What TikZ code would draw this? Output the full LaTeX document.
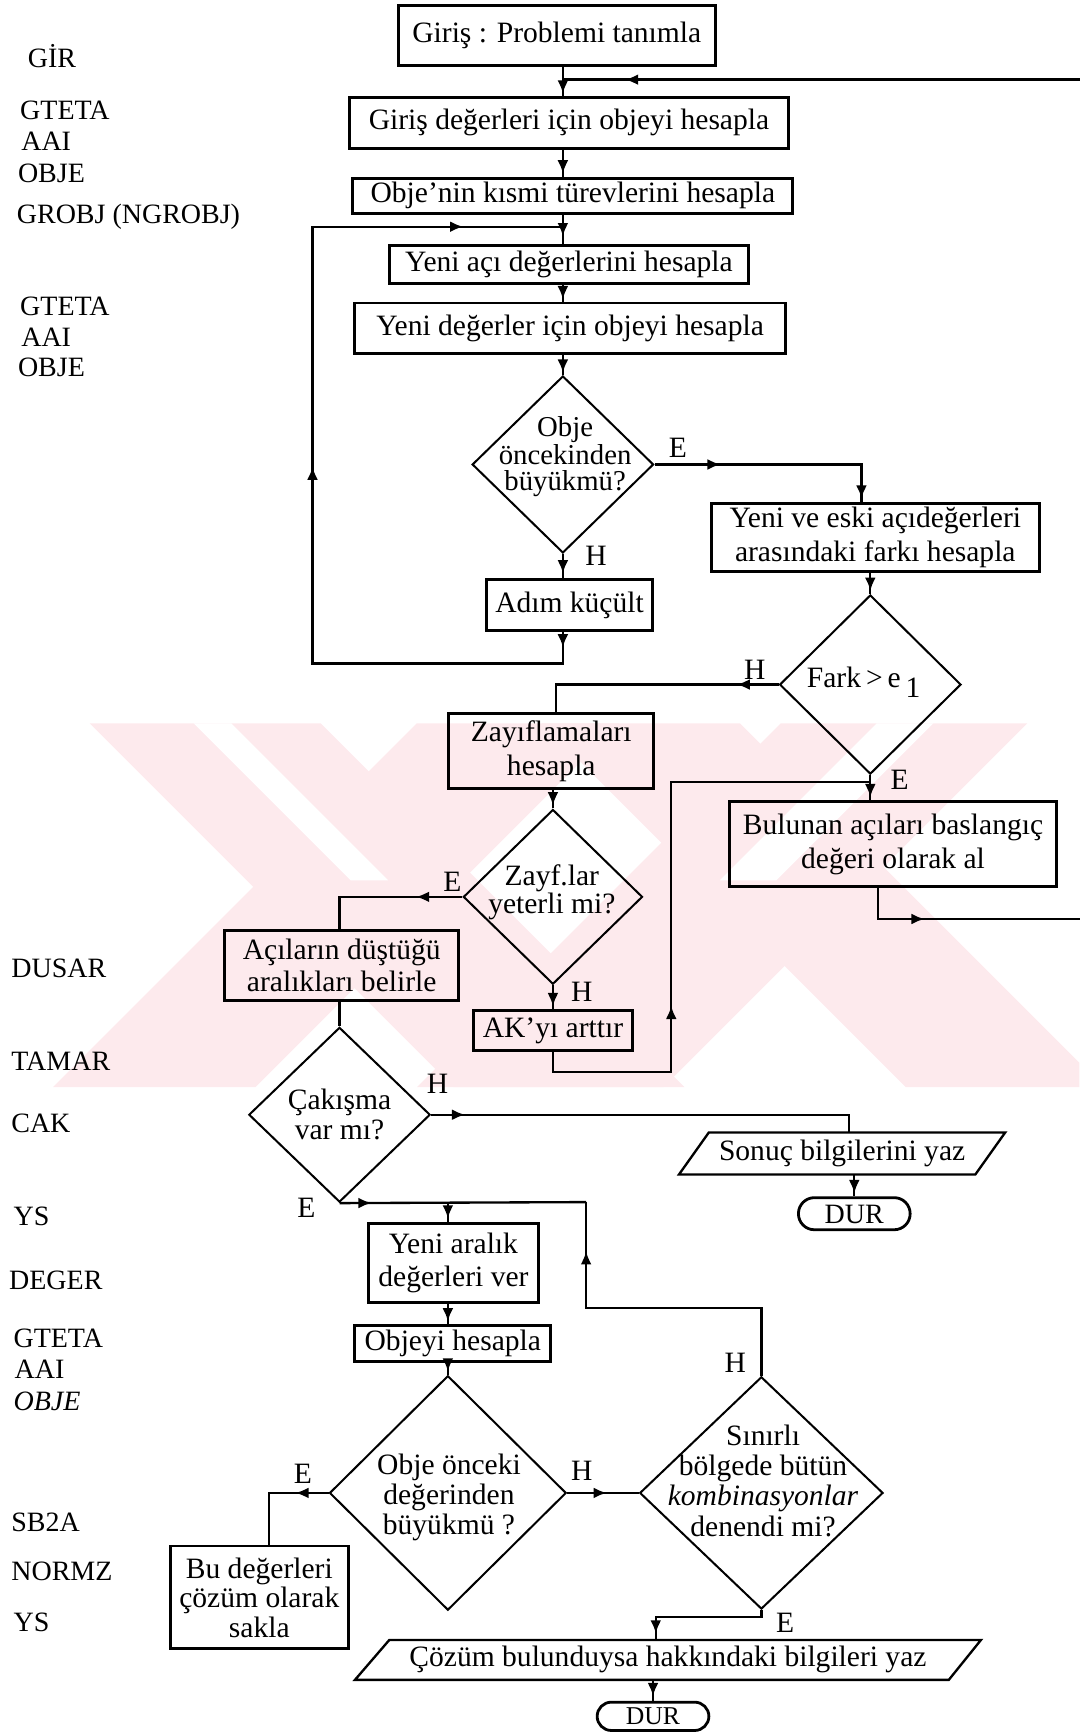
\documentclass[tikz,border=0pt]{standalone}
\usepackage{fontspec}
\setmainfont{Liberation Serif}
\usetikzlibrary{shapes.geometric,decorations.markings,arrows.meta,calc}
\definecolor{wm}{RGB}{253,234,237}
\newcommand\fA{\fontsize{19}{21.5}\selectfont}
\newcommand\fL{\fontsize{18}{20}\selectfont}
\newcommand\fD{\fontsize{19}{19.5}\selectfont}
\tikzset{
  tipA/.tip={Latex[length=8.5pt,width=7pt]},
  box/.style={draw, line width=1.9pt, inner sep=0pt, align=center, font=\fA},
  dia/.style={draw, diamond, line width=1.3pt, inner sep=0pt},
  dtext/.style={align=center, inner sep=0pt, font=\fD},
  conn/.style={line width=1.5pt},
  am/.style={postaction={decorate, decoration={markings, mark=at position #1 with {\arrow{tipA}}}}},
  lab/.style={anchor=west, inner sep=0pt, font=\fL},
  yn/.style={inner sep=0pt, font=\fA},
  term/.style={draw, line width=1.8pt, inner sep=0pt, font=\fontsize{18}{18}\selectfont, text height=12pt, text depth=0pt},
  pline/.style={line width=1.5pt},
}
\begin{document}
\begin{tikzpicture}[x=0.025cm, y=-0.025cm]
\useasboundingbox (0,0) rectangle (976,1568);

% ---------- watermark ----------
\begin{scope}
\clip (0,654) rectangle (976,983);
\fill[wm] (81,654) -- (290,654) -- (619,983) -- (410,983) -- cycle;
\fill[wm] (377,654) -- (560,654) -- (231,983) -- (48,983) -- cycle;
\fill[wm] (490,654) -- (669,654) -- (998,983) -- (819,983) -- cycle;
\fill[wm] (706,654) -- (929,654) -- (600,983) -- (377,983) -- cycle;
\fill[white] (175,654) -- (209,654) -- (351,796) -- (317,796) -- cycle;
\fill[white] (793,654) -- (844,654) -- (702,796) -- (651,796) -- cycle;
\end{scope}

% ---------- left labels ----------
\node[lab] (l1) at (25,51) {GİR};
\node[lab] (l2) at (18,100) {GTETA};
\node[lab] (l3) at (19,128) {AAI};
\node[lab] (l4) at (16,157) {OBJE};
\node[lab] (l5) at (15,196) {GROBJ (NGROBJ)};
\node[lab] (l6) at (18,277) {GTETA};
\node[lab] (l7) at (19,305) {AAI};
\node[lab] (l8) at (16,332) {OBJE};
\node[lab] (l9) at (10,876) {DUSAR};
\node[lab] (l10) at (10,960) {TAMAR};
\node[lab] (l11) at (10,1016) {CAK};
\node[lab] (l12) at (12,1100) {YS};
\node[lab] (l13) at (8,1158) {DEGER};
\node[lab] (l14) at (12,1210) {GTETA};
\node[lab] (l15) at (13,1238) {AAI};
\node[lab] (l16) at (12,1267) {\textit{OBJE}};
\node[lab] (l17) at (10,1377) {SB2A};
\node[lab] (l18) at (10,1421) {NORMZ};
\node[lab] (l19) at (12,1467) {YS};

% ---------- boxes ----------
\node[box, minimum width=7.175cm, minimum height=1.35cm] (b1) at (503.5,32) {Giriş : Problemi tanımla};
\node[box, minimum width=9.925cm, minimum height=1.15cm] (b2) at (514.5,111) {Giriş değerleri için objeyi hesapla};
\node[box, minimum width=9.95cm, minimum height=0.8cm] (b3) at (518,177) {Obje'nin kısmi türevlerini hesapla};
\node[box, minimum width=8.125cm, minimum height=0.85cm] (b4) at (514.5,239) {Yeni açı değerlerini hesapla};
\node[box, minimum width=9.725cm, minimum height=1.15cm] (b5) at (515.5,297) {Yeni değerler için objeyi hesapla};
\node[dia, minimum width=4.1cm, minimum height=4.0cm] (d1) at (509,420) {};
\node[dtext, font=\fontsize{18.5}{16.5}\selectfont] (d1t) at (511,413) {Obje\\öncekinden\\büyükmü?};
\node[box, minimum width=3.75cm, minimum height=1.15cm] (b6) at (515,547) {Adım küçült};
\node[box, minimum width=7.425cm, minimum height=1.55cm] (b7) at (791.5,486) {Yeni ve eski açıdeğerleri\\arasındaki farkı hesapla};
\node[dia, minimum width=4.1cm, minimum height=4.05cm] (d2) at (787,619) {};
\node[dtext] (d2t) at (781,617) {Fark\,>\,e\,\raisebox{-6pt}{1}};
\node[box, minimum width=4.625cm, minimum height=1.7cm, font=\fontsize{19}{22}\selectfont] (b8) at (498.5,679) {Zayıflamaları\\hesapla};
\node[box, minimum width=7.375cm, minimum height=1.925cm, font=\fontsize{19}{22}\selectfont] (b9) at (807.5,763.5) {Bulunan açıları baslangıç\\değeri olarak al};
\node[dia, minimum width=4.05cm, minimum height=3.95cm] (d3) at (500,811) {};
\node[dtext, font=\fontsize{19}{16.5}\selectfont] (d3t) at (499,807) {Zayf.lar\\yeterli mi?};
\node[box, minimum width=5.3cm, minimum height=1.6cm, font=\fontsize{19}{20}\selectfont] (b10) at (309,873) {Açıların düştüğü\\aralıkları belirle};
\node[box, minimum width=3.6cm, minimum height=0.9cm] (b11) at (500,932) {AK'yı arttır};
\node[dia, minimum width=4.1cm, minimum height=3.95cm] (d4) at (307,1008) {};
\node[dtext] (d4t) at (307,1008) {Çakışma\\var mı?};
\node[inner sep=0pt, minimum width=6cm, minimum height=0.95cm, font=\fA] (p1) at (761.5,1043) {Sonuç bilgilerini yaz};
\node[term, minimum width=2.525cm, minimum height=0.725cm, rounded corners=0.36cm] (t1) at (772.5,1097.5) {DUR};
\node[box, minimum width=3.85cm, minimum height=1.8cm] (b12) at (410,1142) {Yeni aralık\\değerleri ver};
\node[box, minimum width=4.425cm, minimum height=0.8cm] (b13) at (409.5,1215) {Objeyi hesapla};
\node[dia, minimum width=5.35cm, minimum height=5.3cm] (d5) at (405,1350) {};
\node[dtext] (d5t) at (406,1354) {Obje önceki\\değerinden\\büyükmü ?};
\node[dia, minimum width=5.5cm, minimum height=5.25cm] (d6) at (688.5,1350) {};
\node[dtext] (d6t) at (690,1339) {Sınırlı\\bölgede bütün\\\textit{kombinasyonlar}\\denendi mi?};
\node[box, minimum width=4.025cm, minimum height=2.325cm, font=\fontsize{19}{19}\selectfont] (b14) at (234.5,1444.5) {Bu değerleri\\çözüm olarak\\sakla};
\node[inner sep=0pt, minimum width=12cm, minimum height=0.9cm, font=\fA] (p2) at (604,1501) {Çözüm bulunduysa hakkındaki bilgileri yaz};
\node[term, minimum width=2.525cm, minimum height=0.64cm, font=\fontsize{16.5}{16.5}\selectfont, text height=11pt, rounded corners=0.32cm] (t2) at (590.5,1552) {DUR};

% parallelogram outlines
\draw[pline] ($(p1.center)+(-120.5,-19)$) -- ($(p1.center)+(147.5,-19)$) -- ($(p1.center)+(120.5,19)$) -- ($(p1.center)+(-147.5,19)$) -- cycle;
\draw[pline] ($(p2.center)+(-252,-18)$) -- ($(p2.center)+(283,-18)$) -- ($(p2.center)+(254,18)$) -- ($(p2.center)+(-283,18)$) -- cycle;

% ---------- branch labels ----------
\node[yn] (e1) at (613,405) {E};
\node[yn] (h1) at (539,503) {H};
\node[yn] (h2) at (682.5,606) {H};
\node[yn] (e2) at (813.6,705.6) {E};
\node[yn] (e3) at (409,797.5) {E};
\node[yn] (h3) at (526,897) {H};
\node[yn] (h4) at (395.6,980) {H};
\node[yn] (e4) at (277,1092) {E};
\node[yn] (e5) at (274,1333) {E};
\node[yn] (h5) at (526,1330) {H};
\node[yn] (h6) at (665,1232) {H};
\node[yn] (e6) at (710,1467) {E};

% ---------- helper coordinates ----------
\coordinate (sA) at (509,0);
\coordinate (xE1) at (779,0);
\coordinate (xH2) at (503,0);
\coordinate (xE3) at (307,0);
\coordinate (xH4) at (768,0);
\coordinate (xE5) at (243,0);
\coordinate (xE6) at (593,0);
\coordinate (xB9) at (794,0);
\coordinate (loopTR) at (980,72);
\coordinate (loopTJ) at (509,72);
\coordinate (loopLJ) at (509,205);
\coordinate (loopBR) at (980,831);
\coordinate (jD2) at (787,707);
\coordinate (jE) at (530,1087);
\coordinate (jB) at (405,1087);

% ---------- connectors ----------
\draw[conn, am=-1.5pt] (b1.south -| sA) -- (b2.north -| sA);
\draw[conn, am=295pt] (loopTR) -- (loopTJ);
\draw[conn, am=-2pt] (b2.south -| sA) -- (b3.north -| sA);
\draw[conn, am=-5pt] (b3.south -| sA) -- (b4.north -| sA);
\draw[conn, am=-1.5pt] (b4.south -| sA) -- (b5.north -| sA);
\draw[conn, am=-1.5pt] (b5.south -| sA) -- (d1.north);
\draw[conn, am=-3pt] (d1.south) -- (b6.north -| sA);
\draw[conn, am=10pt, am=307.8pt, am=559pt] (b6.south -| sA) -- ++(0,28.5) -| (282.6,205) -- (loopLJ);
\draw[conn, am=42.5pt, am=-2pt] (d1.east) -| (b7.north -| xE1);
\draw[conn, am=-2pt] (b7.south -| d2.north) -- (d2.north);
\draw[conn, am=27pt] (d2.west) -| (b8.north -| xH2);
\draw[conn, am=-2pt] (d2.south) -- (b9.north -| d2.south);
\draw[conn, am=-2pt] (b8.south -| d3.north) -- (d3.north);
\draw[conn, am=29.8pt] (d3.west) -| (b10.north -| xE3);
\draw[conn, am=-2pt] (d3.south) -- (b11.north -| d3.south);
\draw[conn, am=131.4pt] (b11.south -| d3.south) -- ++(0,18) -| (607,707) -- (jD2);
\draw[conn, am=49.6pt] (b9.south -| xB9) |- (loopBR);
\draw[conn] (b10.south -| d4.north) -- (d4.north);
\draw[conn, am=21.8pt] (d4.east) -| (p1.north -| xH4);
\draw[conn, am=-2pt] (p1.south -| t1.north) -- (t1.north);
\draw[conn, am=20.6pt] (d4.south) -- (jE);
\draw[conn, am=-2pt] (jB) -- (b12.north -| jB);
\draw[conn, am=192.8pt] (d6.north) -- ++(0,-61) -| (jE);
\draw[conn, am=-2pt] (b12.south -| d5.north) -- (b13.north -| d5.north);
\draw[conn, am=-2pt] (b13.south -| d5.north) -- (d5.north);
\draw[conn, am=21.3pt] (d5.west) -| (b14.north -| xE5);
\draw[conn, am=25.4pt] (d5.east) -- (d6.west);
\draw[conn, am=-4pt] (d6.south) -- ++(0,6.5) -| (p2.north -| xE6);
\draw[conn, am=-3pt] (p2.south -| t2.north) -- (t2.north);
\end{tikzpicture}
\end{document}
